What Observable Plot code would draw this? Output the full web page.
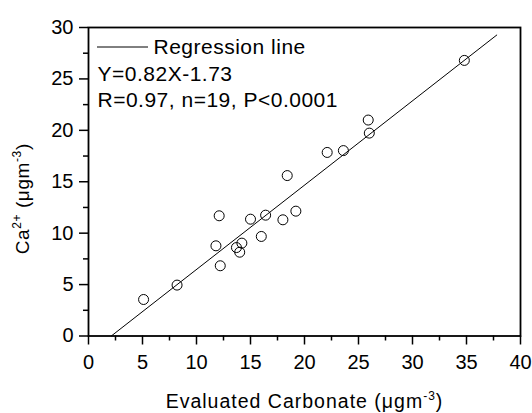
<!DOCTYPE html>
<html><head><meta charset="utf-8">
<script src="https://cdn.jsdelivr.net/npm/d3@7"></script>
<script src="https://cdn.jsdelivr.net/npm/@observablehq/plot@0.6"></script>
<style>body{margin:0;background:#fff}</style>
</head><body><div id="chart"></div>
<script>
const carbonate = [5.1, 8.2, 11.8, 12.1, 12.2, 13.7, 14.0, 14.2, 15.0, 16.0, 16.4, 18.0, 18.4, 19.2, 22.1, 23.6, 25.9, 26.0, 34.8];
const calcium   = [3.55, 4.95, 8.77, 11.69, 6.83, 8.6, 8.15, 9.03, 11.36, 9.68, 11.75, 11.3, 15.6, 12.14, 17.85, 18.03, 21.0, 19.73, 26.8];
const xTicks = [0, 5, 10, 15, 20, 25, 30, 35, 40];
const xMinorTicks = [2.5, 7.5, 12.5, 17.5, 22.5, 27.5, 32.5, 37.5];
const yTicks = [0, 5, 10, 15, 20, 25, 30];
const yMinorTicks = [2.5, 7.5, 12.5, 17.5, 22.5, 27.5];
const slope = 0.82, intercept = -1.73;
const fitRange = [2.11, 37.8];
const legendTitle = "Regression line";
const equationText = "Y=0.82X-1.73";
const statsText = "R=0.97, n=19, P<0.0001";
const xLabel = "Evaluated Carbonate (μgm-3)";
const yLabel = "Ca2+ (μgm-3)";
const xLabelParts = [{t: "Evaluated Carbonate (μgm"}, {t: "-3", sup: true}, {t: ")"}];
const yLabelParts = [{t: "Ca"}, {t: "2+", sup: true}, {t: " (μgm"}, {t: "-3", sup: true}, {t: ")"}];

const points = carbonate.map((c, i) => ({carbonate: c, calcium: calcium[i]}));
const fit = fitRange.map(x => ({x, y: slope * x + intercept}));
const font = "'Liberation Sans', Arial, Helvetica, sans-serif";
const M = {left: 88, right: 12, top: 27, bottom: 77.5};

const chart = Plot.plot({
  width: 532, height: 413,
  marginLeft: M.left, marginRight: M.right, marginTop: M.top, marginBottom: M.bottom,
  x: {domain: [0, 40]},
  y: {domain: [0, 30]},
  style: {fontFamily: font, fontSize: "20px", background: "white", color: "black"},
  marks: [
    Plot.axisX({ticks: xTicks, tickSize: 9, tickPadding: 9.5, strokeWidth: 1.5, fontSize: 20, label: null}),
    Plot.axisX({ticks: xMinorTicks, tickSize: 5, strokeWidth: 1.5, fill: "none", label: null}),
    Plot.axisY({ticks: yTicks, tickSize: 9, tickPadding: 6, strokeWidth: 1.5, fontSize: 20, label: null}),
    Plot.axisY({ticks: yMinorTicks, tickSize: 5, strokeWidth: 1.5, fill: "none", label: null}),
    Plot.frame({stroke: "black", strokeWidth: 1.8}),
    Plot.line(fit, {x: "x", y: "y", stroke: "black", strokeWidth: 1}),
    Plot.dot(points, {x: "carbonate", y: "calcium", r: 5, stroke: "black", strokeWidth: 1, fill: "none"}),
    Plot.text([legendTitle], {text: d => d, frameAnchor: "top-left", dx: 65, dy: 12, lineAnchor: "top", textAnchor: "start", fontSize: 21}),
    Plot.text([equationText], {text: d => d, frameAnchor: "top-left", dx: 9, dy: 39, lineAnchor: "top", textAnchor: "start", fontSize: 21}),
    Plot.text([statsText], {text: d => d, frameAnchor: "top-left", dx: 9, dy: 65, lineAnchor: "top", textAnchor: "start", fontSize: 21}),
    Plot.text([xLabel], {text: d => d, frameAnchor: "bottom", dy: 71.5, lineAnchor: "bottom", textAnchor: "middle", fontSize: 19.5}),
    Plot.text([yLabel], {text: d => d, frameAnchor: "left", dx: -59.5, dy: 17, rotate: -90, lineAnchor: "bottom", textAnchor: "middle", fontSize: 19})
  ]
});

function spaceText(svg, label, spacing) {
  d3.select(svg).selectAll("text").filter(function() { return this.textContent === label; })
    .attr("letter-spacing", spacing);
}
function superscriptify(svg, label, parts, supSize, shift) {
  d3.select(svg).selectAll("text").filter(function() { return this.textContent === label; }).each(function() {
    const el = d3.select(this);
    el.text("");
    let up = false;
    for (const p of parts) {
      const ts = el.append("tspan").text(p.t);
      if (p.sup) {
        ts.attr("font-size", supSize);
        if (!up) { ts.attr("dy", -shift); up = true; }
      } else if (up) { ts.attr("dy", shift); up = false; }
    }
  });
}
spaceText(chart, legendTitle, 0.5);
spaceText(chart, equationText, 0.5);
spaceText(chart, statsText, 0.5);
spaceText(chart, xLabel, 1);
spaceText(chart, yLabel, 0.6);
superscriptify(chart, xLabel, xLabelParts, 12, 8);
superscriptify(chart, yLabel, yLabelParts, 12, 8);

// legend line sample, placed relative to the plot frame
d3.select(chart).append("line")
  .attr("x1", M.left + 9).attr("x2", M.left + 60)
  .attr("y1", M.top + 20).attr("y2", M.top + 20)
  .attr("stroke", "black").attr("stroke-width", 1);

document.getElementById("chart").appendChild(chart);
</script>
</body></html>
